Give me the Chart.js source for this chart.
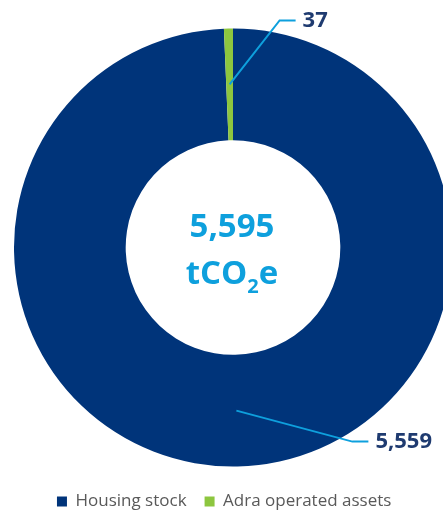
<!DOCTYPE html>
<html>
<head>
<meta charset="utf-8">
<script src="https://cdn.jsdelivr.net/npm/chart.js@4/dist/chart.umd.min.js"></script>
<style>
    html, body { margin: 0; padding: 0; background: #fff; overflow: hidden; width: 443px; height: 514px; }
    #wrap { position: absolute; left: 14px; top: 0; width: 438px; height: 520px; }
</style>
</head>
<body>
<div id="wrap"><canvas id="emissions-doughnut"></canvas></div>
<script>
const categories = ['Housing stock', 'Adra operated assets'];
const emissions = [5559, 37];
const totalLabel = '5,595';
const valueLabels = ['5,559', '37'];

const navy = '#00347A';
const green = '#8DC63F';
const lightBlue = '#0EA0DD';
const labelNavy = '#1F3B70';

// where each leader line bends, relative to the slice's mid point
const leaderElbows = [
    { dx: 116, dy: 31 },
    { dx: 50, dy: -64 }
];

const centerText = {
    id: 'centerText',
    afterDatasetsDraw(chart) {
        const arc = chart.getDatasetMeta(0).data[0];
        if (!arc) return;
        const { x, y } = arc;
        const ctx = chart.ctx;
        ctx.save();
        ctx.fillStyle = lightBlue;
        ctx.textBaseline = 'alphabetic';
        ctx.textAlign = 'center';
        ctx.font = "bold 33px 'Open Sans'";
        ctx.fillText(totalLabel, x - 1, y - 11);

        // tCO2e with subscript
        ctx.textAlign = 'left';
        const big = "bold 33px 'Open Sans'";
        const small = "bold 20px 'Open Sans'";
        ctx.font = big;
        const w1 = ctx.measureText('tCO').width;
        const w3 = ctx.measureText('e').width;
        ctx.font = small;
        const w2 = ctx.measureText('2').width;
        let cx = x - 1 - (w1 + w2 + w3) / 2;
        ctx.font = big;
        ctx.fillText('tCO', cx, y + 36);
        cx += w1;
        ctx.font = small;
        ctx.fillText('2', cx, y + 45);
        cx += w2;
        ctx.font = big;
        ctx.fillText('e', cx, y + 36);
        ctx.restore();
    }
};

const leaderLabels = {
    id: 'leaderLabels',
    afterDatasetsDraw(chart) {
        const ctx = chart.ctx;
        const arcs = chart.getDatasetMeta(0).data;
        ctx.save();
        arcs.forEach((arc, i) => {
            const p = arc.tooltipPosition();
            const e = leaderElbows[i];
            const ex = p.x + e.dx, ey = p.y + e.dy;
            ctx.strokeStyle = lightBlue;
            ctx.lineWidth = 2;
            ctx.beginPath();
            ctx.moveTo(p.x, p.y);
            ctx.lineTo(ex, ey);
            ctx.lineTo(ex + 16, ey);
            ctx.stroke();
            ctx.fillStyle = labelNavy;
            ctx.font = "bold 22px 'Open Sans'";
            ctx.textAlign = 'left';
            ctx.textBaseline = 'middle';
            ctx.fillText(valueLabels[i], ex + 23, ey);
        });
        ctx.restore();
    }
};

new Chart(document.getElementById('emissions-doughnut'), {
    type: 'doughnut',
    data: {
        labels: categories,
        datasets: [{
            data: emissions,
            backgroundColor: [navy, green],
            borderWidth: 0,
            hoverOffset: 0
        }]
    },
    options: {
        responsive: true,
        maintainAspectRatio: false,
        cutout: '49%',
        animation: false,
        events: [],
        layout: { padding: { top: 20, bottom: 0, left: 0, right: 0 } },
        plugins: {
            tooltip: { enabled: false },
            legend: {
                display: true,
                position: 'bottom',
                labels: {
                    color: '#595959',
                    font: { family: "'Open Sans'", size: 17 },
                    boxWidth: 10,
                    boxHeight: 10,
                    padding: 18,
                    generateLabels(chart) {
                        const items = Chart.overrides.doughnut.plugins.legend.labels.generateLabels(chart);
                        // trailing space nudges the centred legend left, as in the original
                        items[items.length - 1].text += '\u00a0\u00a0\u00a0\u00a0';
                        return items;
                    }
                }
            }
        }
    },
    plugins: [centerText, leaderLabels]
});
</script>
</body>
</html>
